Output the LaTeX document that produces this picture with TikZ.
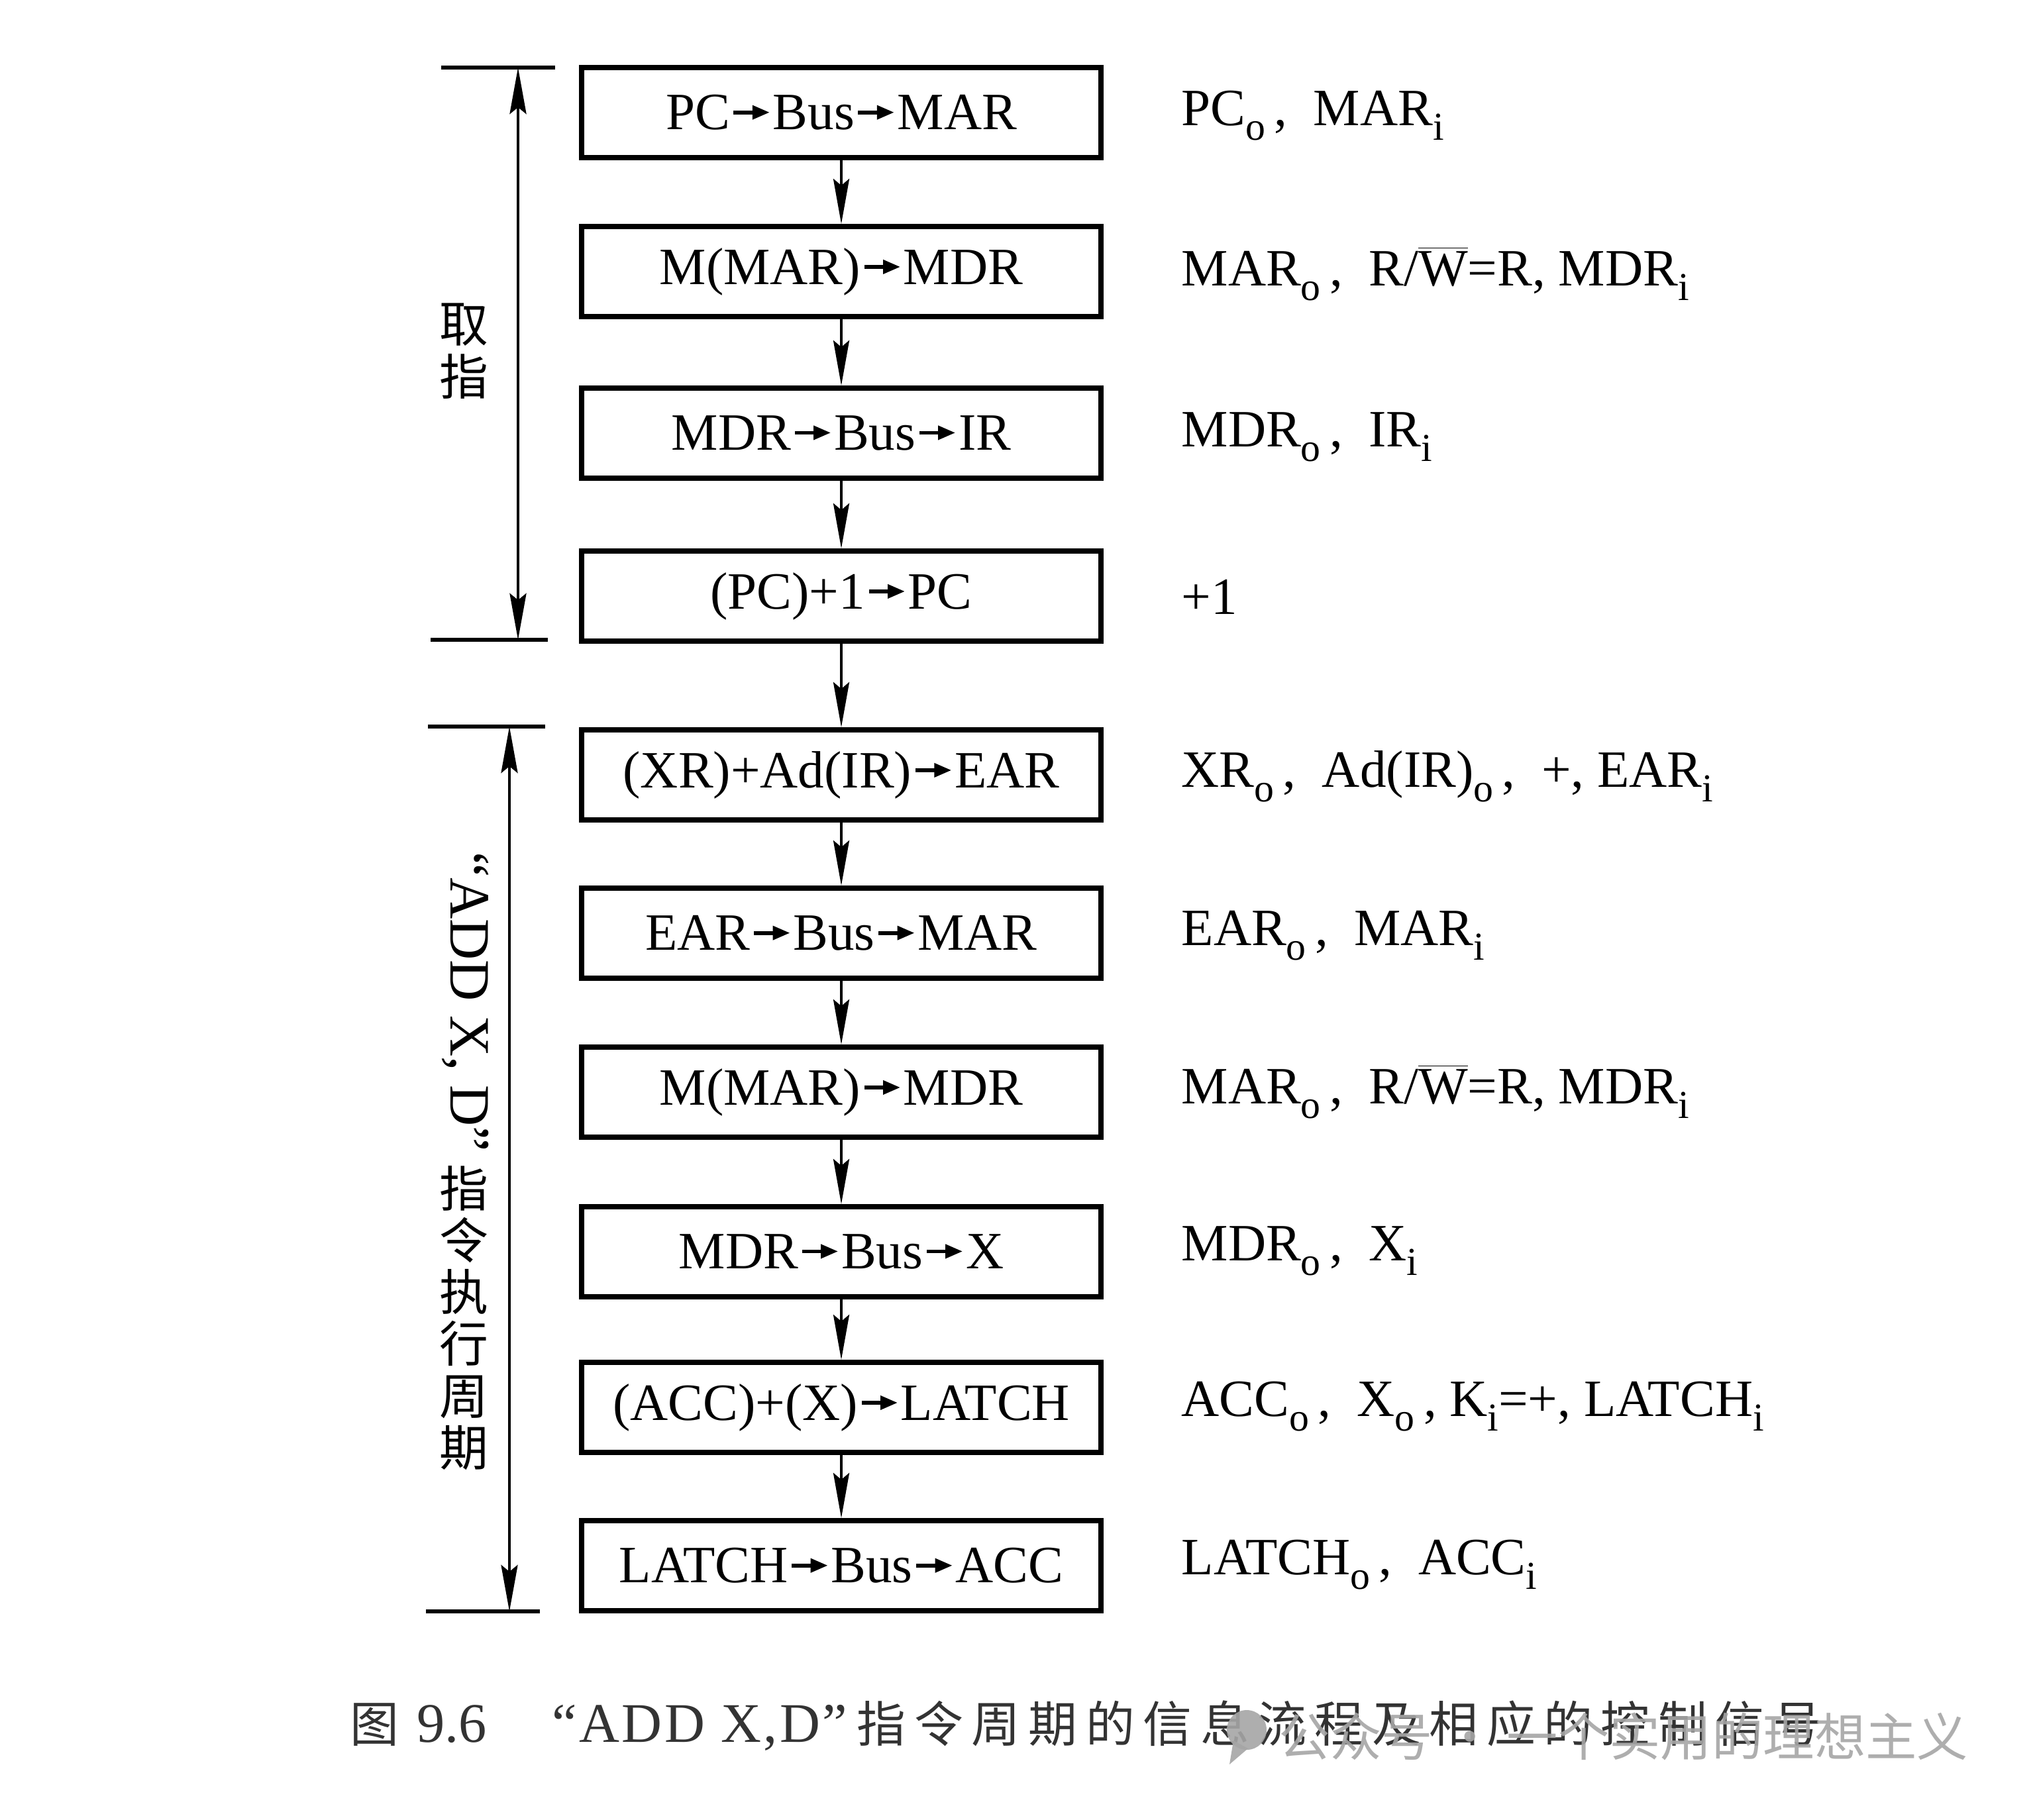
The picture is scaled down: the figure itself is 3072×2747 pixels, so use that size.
\documentclass[tikz,border=0pt]{standalone}
\usepackage{fontspec}
\usepackage{graphicx}
\setmainfont{Liberation Serif}
\newfontfamily\cjk{Noto Sans CJK SC}
\newfontfamily\cjkcap[LetterSpace=17]{Noto Sans CJK SC}
\newfontfamily\capserif[LetterSpace=4]{Liberation Serif}
\usetikzlibrary{arrows.meta}
\newcommand\ra{\kern0.07em\tikz[baseline=-0.33em]{\fill[black] (0,-0.037em) rectangle (0.42em,0.037em); \fill[black] (0.36em,-0.14em) -- (0.68em,0) -- (0.36em,0.14em) -- cycle;}\kern0.07em}
\newcommand\sbs[1]{\raisebox{-0.28em}{\fontsize{17}{17}\selectfont #1}}
\newcommand\ovl[1]{$\overline{\mbox{#1}}$}
\newcommand\bfnt{\fontsize{22.5}{27}\selectfont}
\begin{document}
\begin{tikzpicture}[x=0.01cm,y=-0.01cm,
  box/.style={draw, line width=2.2pt, minimum width=7.84cm, minimum height=1.36cm, inner sep=0pt, font=\bfnt},
  sig/.style={anchor=base west, inner sep=0pt, font=\bfnt},
  conn/.style={line width=1.3pt, -{Stealth[length=0.68cm,width=0.24cm,inset=0.1cm]}},
  brk/.style={line width=1.3pt, {Stealth[length=0.7cm,width=0.25cm,inset=0.1cm]}-{Stealth[length=0.7cm,width=0.25cm,inset=0.1cm]}},
  tick/.style={line width=1.7pt},
  zh/.style={font=\cjk\fontsize{21}{22.2}\selectfont, inner sep=0pt},
  capl/.style={font=\capserif\fontsize{24}{28}\selectfont, text=black!80, inner sep=0pt},
  capz/.style={font=\cjkcap\fontsize{21}{24}\selectfont, text=black!80, inner sep=0pt},
]
\fill[white] (0,0) rectangle (3072,2747);
\useasboundingbox (0,0) rectangle (3072,2747);

% boxes
\node[box] (b1) at (1270,170) {PC\ra Bus\ra MAR};
\node[box] (b2) at (1270,410) {M(MAR)\ra MDR};
\node[box] (b3) at (1270,654) {MDR\ra Bus\ra IR};
\node[box] (b4) at (1270,900) {(PC)+1\ra PC};
\node[box] (b5) at (1270,1170) {(XR)+Ad(IR)\ra EAR};
\node[box] (b6) at (1270,1409) {EAR\ra Bus\ra MAR};
\node[box] (b7) at (1270,1649) {M(MAR)\ra MDR};
\node[box] (b8) at (1270,1890) {MDR\ra Bus\ra X};
\node[box] (b9) at (1270,2125) {(ACC)+(X)\ra LATCH};
\node[box] (b10) at (1270,2364) {LATCH\ra Bus\ra ACC};

\foreach \i/\j in {1/2,2/3,3/4,4/5,5/6,6/7,7/8,8/9,9/10}
  \draw[conn] (b\i) -- (b\j);

% control signals
\node[sig] (s1) at (1783,189) {PC\sbs{o}\,, \ MAR\sbs{i}};
\node[sig] (s2) at (1783,431) {MAR\sbs{o}\,, \ R/\ovl{W}=R, MDR\sbs{i}};
\node[sig] (s3) at (1783,674) {MDR\sbs{o}\,, \ IR\sbs{i}};
\node[sig] (s4) at (1783,927) {+1};
\node[sig] (s5) at (1783,1188) {XR\sbs{o}\,, \ Ad(IR)\sbs{o}\,, \ +, EAR\sbs{i}};
\node[sig] (s6) at (1783,1427) {EAR\sbs{o}\,, \ MAR\sbs{i}};
\node[sig] (s7) at (1783,1666) {MAR\sbs{o}\,, \ R/\ovl{W}=R, MDR\sbs{i}};
\node[sig] (s8) at (1783,1903) {MDR\sbs{o}\,, \ X\sbs{i}};
\node[sig] (s9) at (1783,2138) {ACC\sbs{o}\,, \ X\sbs{o}\,, K\sbs{i}=+, LATCH\sbs{i}};
\node[sig] (s10) at (1783,2377) {LATCH\sbs{o}\,, \ ACC\sbs{i}};

% fetch bracket
\coordinate (ftl) at (666,102); \coordinate (ftr) at (838,102);
\coordinate (fbl) at (650,966); \coordinate (fbr) at (827,966);
\coordinate (ft) at (782,102); \coordinate (fb) at (782,966);
\draw[tick] (ftl) -- (ftr);
\draw[tick] (fbl) -- (fbr);
\draw[brk] (ft) -- (fb);
\node[zh] (qu) at (700,490) {取};
\node[zh] (zhi) at (700,568) {指};

% execute bracket
\coordinate (etl) at (646,1097); \coordinate (etr) at (823,1097);
\coordinate (ebl) at (643,2433); \coordinate (ebr) at (815,2433);
\coordinate (et) at (769,1097); \coordinate (eb) at (769,2433);
\draw[tick] (etl) -- (etr);
\draw[tick] (ebl) -- (ebr);
\draw[brk] (et) -- (eb);
\node[rotate=-90, font=\fontsize{24.5}{28}\selectfont, inner sep=0pt] (addxd) at (703,1513) {“ADD X, D”};
\node[zh, align=center] (exe) at (700,1990) {指\\令\\执\\行\\周\\期};

% caption
\node[font=\cjk\fontsize{21}{24}\selectfont, text=black!80, inner sep=0pt, anchor=base] (fig) at (565,2630) {图};
\node[font=\fontsize{24}{28}\selectfont, text=black!80, inner sep=0pt, anchor=base] (num) at (682,2630) {9.6};
\node[capl, anchor=base west] (capq) at (833,2630) {“ADD X,D”};
\node[capz, anchor=base west] (capt) at (1293,2630) {指令周期的信息流程及相应的控制信号};

% watermark
\fill[black!35, opacity=0.9] (1882,2612) circle (30);
\fill[black!35, opacity=0.9] (1862,2628) -- (1856,2664) -- (1884,2640) -- cycle;
\node[anchor=base west, font=\cjk\fontsize{22}{26}\selectfont, text=black!35, opacity=0.9, inner sep=0pt] (wm) at (1930,2651) {公众号 · 一个实用的理想主义};
\end{tikzpicture}
\end{document}
